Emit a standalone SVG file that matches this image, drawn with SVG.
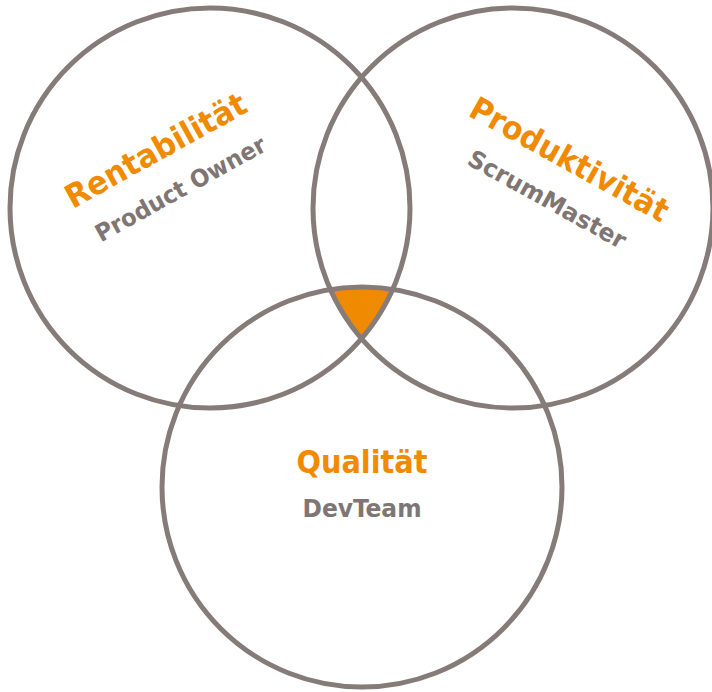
<svg xmlns="http://www.w3.org/2000/svg" width="712" height="692" viewBox="0 0 712 692">
  <defs>
    <style>
      .ring { fill: none; stroke: #857b78; stroke-width: 5; }
      .title { font-family: "DejaVu Sans Condensed", "DejaVu Sans", sans-serif; font-weight: bold; font-size: 32px; fill: #f08a00; text-anchor: middle; }
      .role { font-family: "DejaVu Sans Condensed", "DejaVu Sans", sans-serif; font-weight: bold; font-size: 24px; fill: #7f7673; text-anchor: middle; }
    </style>
    <clipPath id="clipL"><circle cx="210" cy="208" r="200"/></clipPath>
    <clipPath id="clipR"><circle cx="513" cy="208" r="200"/></clipPath>
  </defs>
  <rect width="712" height="692" fill="#ffffff"/>
  <g id="center-intersection" clip-path="url(#clipL)">
    <g clip-path="url(#clipR)">
      <circle cx="362" cy="487" r="200" fill="#f08a00"/>
    </g>
  </g>
  <g id="rentabilitaet">
    <circle class="ring" cx="210" cy="208" r="200"/>
    <g transform="translate(161,160) rotate(-29)">
      <text class="title" x="0" y="0" textLength="202" lengthAdjust="spacingAndGlyphs">Rentabilität</text>
      <text class="role" x="3" y="43" textLength="191" lengthAdjust="spacingAndGlyphs">Product Owner</text>
    </g>
  </g>
  <g id="produktivitaet">
    <circle class="ring" cx="513" cy="208" r="200"/>
    <g transform="translate(564,169) rotate(29)">
      <text class="title" x="0" y="0" textLength="222" lengthAdjust="spacingAndGlyphs">Produktivität</text>
      <text class="role" x="0" y="43" textLength="177" lengthAdjust="spacingAndGlyphs">ScrumMaster</text>
    </g>
  </g>
  <g id="qualitaet">
    <circle class="ring" cx="362" cy="487" r="200"/>
    <text class="title" x="362" y="473" textLength="131" lengthAdjust="spacingAndGlyphs">Qualität</text>
    <text class="role" x="362" y="517" textLength="119" lengthAdjust="spacingAndGlyphs">DevTeam</text>
  </g>
  <g id="connectors"/>
</svg>
